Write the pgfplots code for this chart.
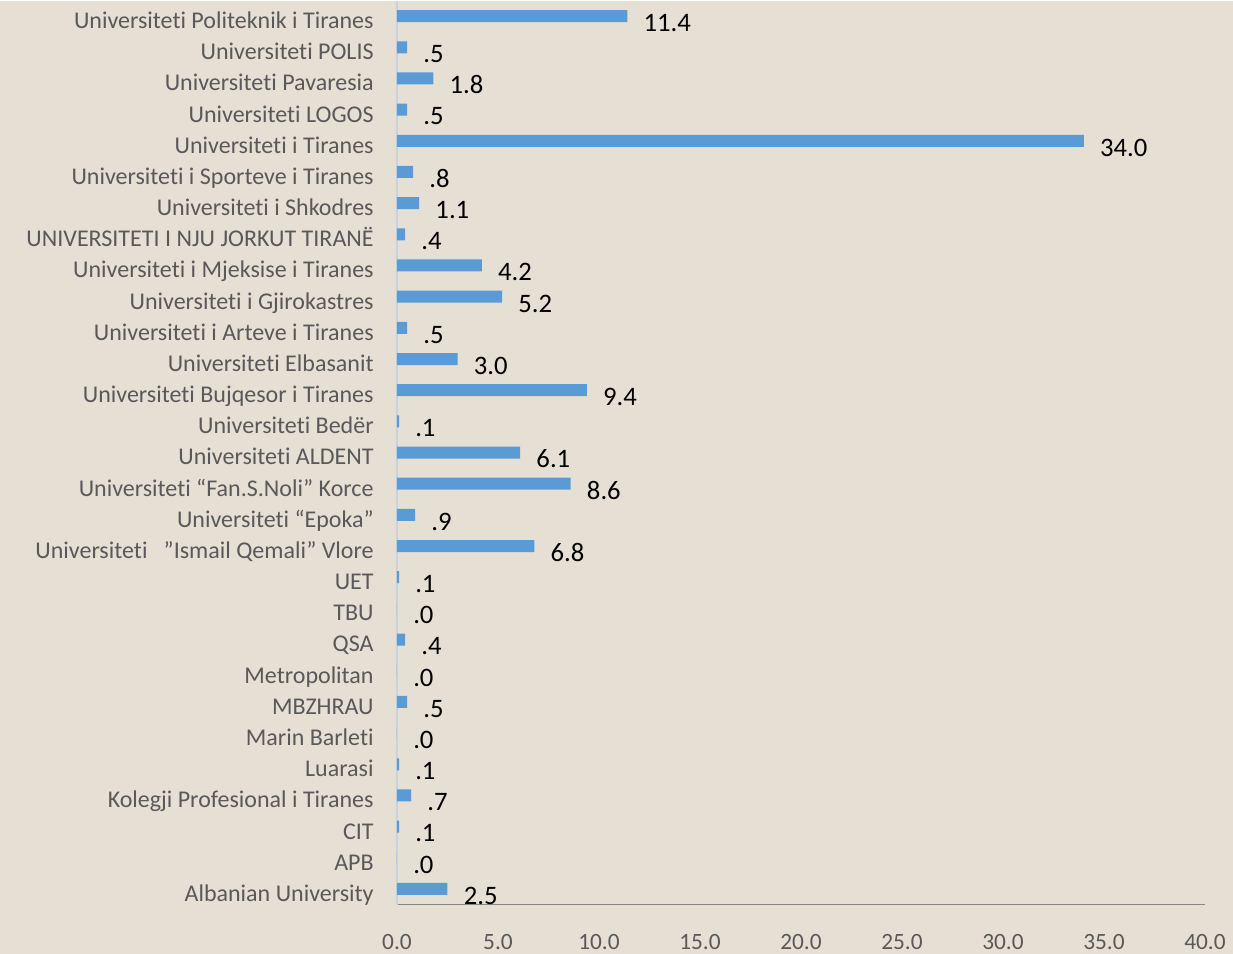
\documentclass[border=0pt]{standalone}
\usepackage{fontspec}
\setmainfont{Carlito}[Ligatures=NoCommon]
\usepackage{pgfplots}
\pgfplotsset{compat=1.18}

\definecolor{bg}{HTML}{E6DFD3}
\definecolor{barblue}{HTML}{5B9BD5}
\definecolor{ticktxt}{HTML}{595959}
\definecolor{xline}{HTML}{868686}
\definecolor{yline}{HTML}{C9D2DC}

\pgfplotstableread{
y x lbl
0 11.4 11.4
1 0.5 .5
2 1.8 1.8
3 0.5 .5
4 34.0 34.0
5 0.8 .8
6 1.1 1.1
7 0.4 .4
8 4.2 4.2
9 5.2 5.2
10 0.5 .5
11 3.0 3.0
12 9.4 9.4
13 0.1 .1
14 6.1 6.1
15 8.6 8.6
16 0.9 .9
17 6.8 6.8
18 0.1 .1
19 0.0 .0
20 0.4 .4
21 0.0 .0
22 0.5 .5
23 0.0 .0
24 0.1 .1
25 0.7 .7
26 0.1 .1
27 0.0 .0
28 2.5 2.5
}\shares

\begin{document}
\begin{tikzpicture}
% page background (1233 x 953 px at 0.75pt per px)
\fill[bg] (-297.75pt,-36.75pt) rectangle (627pt,678pt);
\begin{axis}[
  at={(0,0)}, anchor=south west,
  scale only axis, width=606pt, height=678pt,
  xbar, bar width=9pt,
  y dir=reverse,
  xmin=0, xmax=40, ymin=-0.5, ymax=28.5,
  axis x line*=bottom, axis y line*=left,
  x axis line style={xline, line width=0.8pt, -},
  y axis line style={yline, line width=0.8pt, -},
  xtick={0,5,...,40}, ytick={0,...,28},
  major tick length=0pt,
  /pgf/number format/.cd, fixed, fixed zerofill, precision=1, assume math mode=true, /pgfplots/.cd,
  xticklabel style={font=\fontsize{17.5}{20}\selectfont, text=ticktxt, anchor=north, yshift=-18.5pt},
  yticklabel style={font=\fontsize{18}{21}\selectfont, text=ticktxt, anchor=base east, xshift=-14pt, yshift=-9.3pt},
  yticklabels={
    Universiteti Politeknik i Tiranes,
    Universiteti POLIS,
    Universiteti Pavaresia,
    Universiteti LOGOS,
    Universiteti i Tiranes,
    Universiteti i Sporteve i Tiranes,
    Universiteti i Shkodres,
    UNIVERSITETI I NJU JORKUT TIRANË,
    Universiteti i Mjeksise i Tiranes,
    Universiteti i Gjirokastres,
    Universiteti i Arteve i Tiranes,
    Universiteti Elbasanit,
    Universiteti Bujqesor i Tiranes,
    Universiteti Bedër,
    Universiteti ALDENT,
    Universiteti “Fan.S.Noli” Korce,
    Universiteti “Epoka”,
    Universiteti\ \ \ ”Ismail Qemali” Vlore,
    UET, TBU, QSA, Metropolitan, MBZHRAU, Marin Barleti, Luarasi,
    Kolegji Profesional i Tiranes, CIT, APB, Albanian University},
  nodes near coords,
  point meta=explicit symbolic,
  every node near coord/.append style={font=\fontsize{20}{23}\selectfont, text=black,
    anchor=base west, inner sep=0pt, xshift=12pt, yshift=-11.5pt},
  clip=false,
]
\addplot[fill=barblue, draw=none] table[x=x, y=y, meta=lbl] {\shares};
\end{axis}
\end{tikzpicture}
\end{document}
